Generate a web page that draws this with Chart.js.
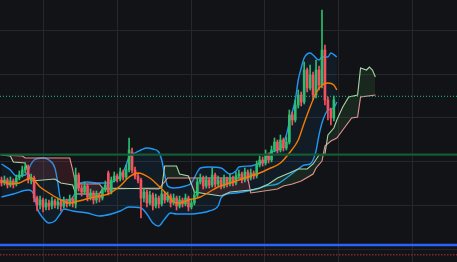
<!DOCTYPE html>
<html><head><meta charset="utf-8">
<script src="https://cdn.jsdelivr.net/npm/chart.js@4.4.1/dist/chart.umd.min.js"></script>
<style>html,body{margin:0;padding:0;background:#121317;overflow:hidden}canvas{display:block}</style>
</head><body><canvas id="c" width="457" height="262"></canvas>
<script>
const slotCount = 154;
const openP  = [80,77,80,75,79,76,82,85,90,93,80,82,62,55,60,53,57,54,59,55,58,54,59,56,61,56,85,72,68,74,63,67,60,65,62,70,87,68,80,84,81,88,83,90,108,90,84,80,62,68,57,65,54,62,56,66,60,64,57,62,54,60,56,62,53,57,65,78,82,74,80,75,85,76,80,74,81,76,82,77,84,86,80,88,82,87,84,95,100,97,105,100,110,118,110,120,112,118,145,140,155,165,158,190,172,185,165,190,175,210,160,150,142];
const closeP = [77,80,75,79,76,82,85,90,93,80,82,62,55,60,53,57,54,59,55,58,54,59,56,61,57,85,72,68,74,63,67,60,65,62,70,75,68,80,84,81,88,83,90,110,90,84,80,62,68,57,65,54,62,56,66,60,64,57,62,54,60,56,62,53,57,65,78,82,74,80,75,85,76,80,74,81,76,82,77,84,86,80,88,82,87,84,95,100,97,105,100,110,118,110,120,112,118,145,140,155,165,158,190,172,185,165,190,175,210,160,150,142,160];
const highP  = [83,84,82,83,81,85,89,94,97,95,86,84,64,64,62,61,60,63,61,62,60,63,61,65,63,92,87,75,78,76,71,69,69,67,73,79,89,83,88,86,92,90,95,122,112,93,87,82,72,70,69,67,66,64,70,68,68,66,66,64,64,62,66,64,61,69,82,86,84,84,82,92,87,84,82,85,83,86,84,88,90,88,92,90,91,89,99,104,103,110,107,114,122,120,125,122,123,150,148,160,170,168,198,192,195,188,200,194,250,215,163,152,164];
const lowP   = [74,75,72,73,72,74,80,83,87,77,76,58,49,51,48,50,50,51,52,51,49,52,53,54,53,52,69,64,66,59,60,56,57,58,60,68,65,66,78,78,79,80,81,88,87,81,77,42,58,53,55,50,52,52,54,57,58,53,55,50,52,53,54,49,51,55,63,76,71,72,72,73,73,74,71,72,73,74,74,75,82,77,78,79,80,81,82,93,94,95,97,98,108,107,108,109,110,116,135,138,152,154,156,168,170,160,162,170,172,155,140,135,139];

const maIdx = [0,3,6,10,13,16,20,23,26,30,33,36,40,43,46,50,53,56,58,60,63,67,70,73,77,80,84,87,90,94,97,100,102,104,106,108,110,112,113];
const maVal = [79,76,77,82,73,67,60,57,59,62,64,66,74,83,87,82,74,65,58,57,60,63,68,73,77,80,84,87,91,97,107,120,137,153,167,175,177,175,170];

const bbUpIdx = [0,3,5,8,10,11,14,16,18,19,20,23,25,26,29,32,36,39,41,42,43,45,47,49,51,53,54,55,56,58,62,64,66,67,70,74,77,79,80,84,87,89,90,94,96,97,99,100,101,102,104,105,107,108,110,111,113];
const bbUpVal = [96,90,84,85,96,100,102,100,92,77,60,60,68,76,78,77,77,81,88,95,103,107,110,112,111,108,100,85,74,72,74,77,88,92,93,92,86,89,93,94,97,100,106,112,125,138,160,180,192,202,207,205,200,203,203,207,203];

const bbLoIdx = [0,4,9,11,12,14,16,18,20,21,24,29,33,37,40,43,47,49,51,53,55,57,59,64,67,70,73,74,76,79,83,86,89,93,96,100,102,104,105,106,107,108,109,110,112,113];
const bbLoVal = [63,66,70,65,52,42,37,39,47,51,49,47,44,46,49,53,52,46,37,34,41,47,46,46,47,49,54,62,66,67,69,71,74,76,82,91,95,96,100,109,125,137,145,150,152,158];

const spanAIdx = [0,3,4,8,9,10,18,20,24,25,33,34,54,55,59,60,63,65,74,77,84,87,90,93,97,100,103,105,107,109,110,112,113,115,117,120,121,123,124,125,126];
const spanAVal = [105,104,98,97,88,79,81,77,75,66,66,71,72,94,94,86,84,68,64,68,70,72,76,82,87,91,91,96,105,106,125,132,140,153,163,165,192,190,193,190,183];

const spanBIdx = [0,7,8,23,24,25,33,34,53,56,83,84,93,95,98,101,105,106,108,109,111,113,115,118,120,121,126];
const spanBVal = [105,104,102,102,90,76,76,72,71,82,82,67,71,74,76,79,86,92,99,114,119,122,130,142,143,163,165];

const levelValues = [163.7, 105.3, 15, 5.3];
const gridX = [14.1, 39, 64, 88.7, 113.6, 138.6];
const gridY = [11, 54.7, 98.4, 142.1, 185.8, 229.5];

const GREEN = '#2dbd6e', RED = '#f5515f';
const pts = (ix, vals) => ix.map((x, k) => ({x, y: vals[k]}));
const candleColor = c => { const i = c.dataIndex; return closeP[i] >= openP[i] ? GREEN : RED; };
const levelLine = (v, color, w, dash, order) => ({
  type: 'line', data: [{x: -0.5, y: v}, {x: slotCount - 0.5, y: v}],
  borderColor: color, borderWidth: w, borderDash: dash, pointRadius: 0, fill: false, order
});

const datasets = [
  {type: 'line', data: pts(bbUpIdx, bbUpVal), borderColor: '#2196f3', borderWidth: 1.4, pointRadius: 0,
   cubicInterpolationMode: 'monotone', fill: {target: 1, above: 'rgba(33,150,243,0.07)', below: 'rgba(33,150,243,0.07)'}, order: 30},
  {type: 'line', data: pts(bbLoIdx, bbLoVal), borderColor: '#2196f3', borderWidth: 1.4, pointRadius: 0,
   cubicInterpolationMode: 'monotone', fill: false, order: 29},
  {type: 'line', data: pts(spanBIdx, spanBVal), borderColor: '#e8989c', borderWidth: 1.1, pointRadius: 0,
   tension: 0, fill: false, order: 28},
  {type: 'line', data: pts(spanAIdx, spanAVal), borderColor: '#a8d5a8', borderWidth: 1.1, pointRadius: 0,
   tension: 0, fill: {target: 2, above: 'rgba(76,175,80,0.13)', below: 'rgba(200,70,80,0.16)'}, order: 27},
  {type: 'bar', data: closeP.map((c, i) => ({x: i, y: [lowP[i], highP[i]]})), backgroundColor: candleColor,
   barThickness: 1, grouped: false, borderWidth: 0, order: 12},
  {type: 'bar', data: closeP.map((c, i) => ({x: i, y: [openP[i], c]})), backgroundColor: candleColor,
   barThickness: 2, grouped: false, borderWidth: 0, minBarLength: 1, order: 11},
  {type: 'line', data: pts(maIdx, maVal), borderColor: '#f57c00', borderWidth: 1.4, pointRadius: 0,
   cubicInterpolationMode: 'monotone', fill: false, order: 8},
  levelLine(levelValues[0], '#22c07a', 1, [1, 2], 3),
  levelLine(levelValues[1], '#145a35', 2.2, [], 3),
  levelLine(levelValues[2], '#2962ff', 2.4, [], 3),
  levelLine(levelValues[3], '#7d2a34', 1.4, [1.5, 1.5], 3)
];

const axisBase = (ticksArr, isX) => ({
  type: 'linear', offset: false, display: true,
  grid: {color: '#26272c', lineWidth: 1, drawTicks: false, offset: false},
  border: {display: false},
  ticks: {display: false},
  afterBuildTicks: s => { s.ticks = ticksArr.map(v => ({value: v})); },
  afterFit: s => { if (isX) s.height = 0; else s.width = 0; }
});

new Chart(document.getElementById('c'), {
  type: 'bar',
  data: {datasets},
  options: {
    responsive: false, animation: false, devicePixelRatio: 1,
    layout: {padding: 0},
    plugins: {legend: {display: false}, tooltip: {enabled: false}},
    scales: {
      x: Object.assign(axisBase(gridX, true), {min: -0.5, max: slotCount - 0.5}),
      y: Object.assign(axisBase(gridY, false), {min: -2, max: 260})
    }
  }
});
</script></body></html>
